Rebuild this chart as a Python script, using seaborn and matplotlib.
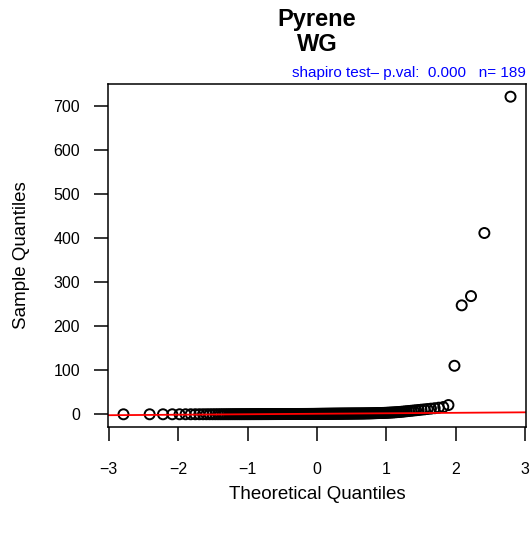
import numpy as np
import pandas as pd
import seaborn as sns
import matplotlib.pyplot as plt
from statistics import NormalDist

# sorted sample values (Pyrene, WG)
sample = [
    0.02, 0.04, 0.06, 0.08, 0.10, 0.11, 0.12, 0.14, 0.15, 0.16,
    0.17, 0.18, 0.19, 0.20, 0.21, 0.22, 0.23, 0.24, 0.25, 0.26,
    0.27, 0.28, 0.29, 0.30, 0.30, 0.31, 0.32, 0.33, 0.34, 0.35,
    0.35, 0.36, 0.37, 0.38, 0.38, 0.39, 0.40, 0.41, 0.42, 0.42,
    0.43, 0.44, 0.45, 0.46, 0.46, 0.47, 0.48, 0.49, 0.50, 0.51,
    0.52, 0.53, 0.54, 0.55, 0.56, 0.57, 0.58, 0.59, 0.60, 0.61,
    0.62, 0.63, 0.64, 0.65, 0.66, 0.67, 0.68, 0.69, 0.70, 0.71,
    0.72, 0.73, 0.74, 0.75, 0.76, 0.77, 0.78, 0.79, 0.80, 0.81,
    0.82, 0.83, 0.84, 0.85, 0.86, 0.87, 0.88, 0.89, 0.90, 0.91,
    0.92, 0.94, 0.96, 0.98, 1.00, 1.02, 1.04, 1.06, 1.08, 1.10,
    1.12, 1.14, 1.16, 1.18, 1.20, 1.22, 1.24, 1.26, 1.28, 1.30,
    1.32, 1.34, 1.36, 1.38, 1.40, 1.42, 1.44, 1.46, 1.48, 1.50,
    1.52, 1.54, 1.56, 1.58, 1.60, 1.62, 1.64, 1.66, 1.68, 1.70,
    1.72, 1.74, 1.76, 1.78, 1.80, 1.82, 1.84, 1.86, 1.88, 1.90,
    1.93, 1.96, 2.00, 2.05, 2.10, 2.15, 2.20, 2.25, 2.30, 2.40,
    2.50, 2.60, 2.70, 2.80, 2.90, 3.00, 3.10, 3.20, 3.35, 3.50,
    3.70, 3.90, 4.10, 4.30, 4.60, 4.90, 5.20, 5.60, 6.00, 6.50,
    7.00, 7.50, 8.00, 8.60, 9.20, 9.80, 10.5, 11.2, 12.0, 12.8,
    13.8, 15.0, 16.5, 21.0, 110.0, 247.0, 268.0, 411.0, 720.0,
]
x_ticks = [-3, -2, -1, 0, 1, 2, 3]
y_ticks = [0, 100, 200, 300, 400, 500, 600, 700]
title_text = "Pyrene\nWG"
subtitle_text = "shapiro test\u2013 p.val:  0.000   n= 189"

# theoretical quantiles (R ppoints for n > 10)
n = len(sample)
theo = [NormalDist().inv_cdf((i + 0.5) / n) for i in range(n)]
df = pd.DataFrame({"theo": theo, "sample": sorted(sample)})

# qqline through 1st and 3rd quartiles
q1, q3 = np.percentile(df["sample"], [25, 75])
z1, z3 = NormalDist().inv_cdf(0.25), NormalDist().inv_cdf(0.75)
slope = (q3 - q1) / (z3 - z1)
intercept = q1 - slope * z1

sns.set_style("white")
plt.rcParams["font.family"] = ["Liberation Sans", "DejaVu Sans"]
plt.rcParams["text.color"] = "black"
plt.rcParams["axes.labelcolor"] = "black"
plt.rcParams["xtick.color"] = "black"
plt.rcParams["ytick.color"] = "black"

fig = plt.figure(figsize=(5.32, 5.33), dpi=100)
ax = fig.add_axes([108 / 532, 1 - 427 / 533, 418 / 532, 343 / 533])

sns.scatterplot(data=df, x="theo", y="sample", ax=ax, marker="o",
                facecolor="none", edgecolor="black", linewidth=1.4, s=52)
ax.margins(x=0.04, y=0.04)
ax.axline((0, intercept), slope=slope, color="red", lw=1.3)

ax.set_xticks(x_ticks)
ax.set_yticks(y_ticks)
ax.tick_params(direction="out", length=10, width=1.1, pad=10,
               labelsize=11.5, color="black", labelcolor="black",
               bottom=True, left=True)
ax.tick_params(axis="x", pad=15)
for s in ax.spines.values():
    s.set_color("black")
    s.set_linewidth(1.1)

ax.set_xlabel("Theoretical Quantiles", fontsize=13.5, labelpad=6.5)
ax.set_ylabel("Sample Quantiles", fontsize=13.5, labelpad=17)
ax.set_title(title_text, fontsize=17, fontweight="bold", pad=24, linespacing=1.1)
ax.text(1.0, 1.012, subtitle_text, transform=ax.transAxes, ha="right",
        va="bottom", color="blue", fontsize=11)

fig.savefig("out.png", dpi=100)
